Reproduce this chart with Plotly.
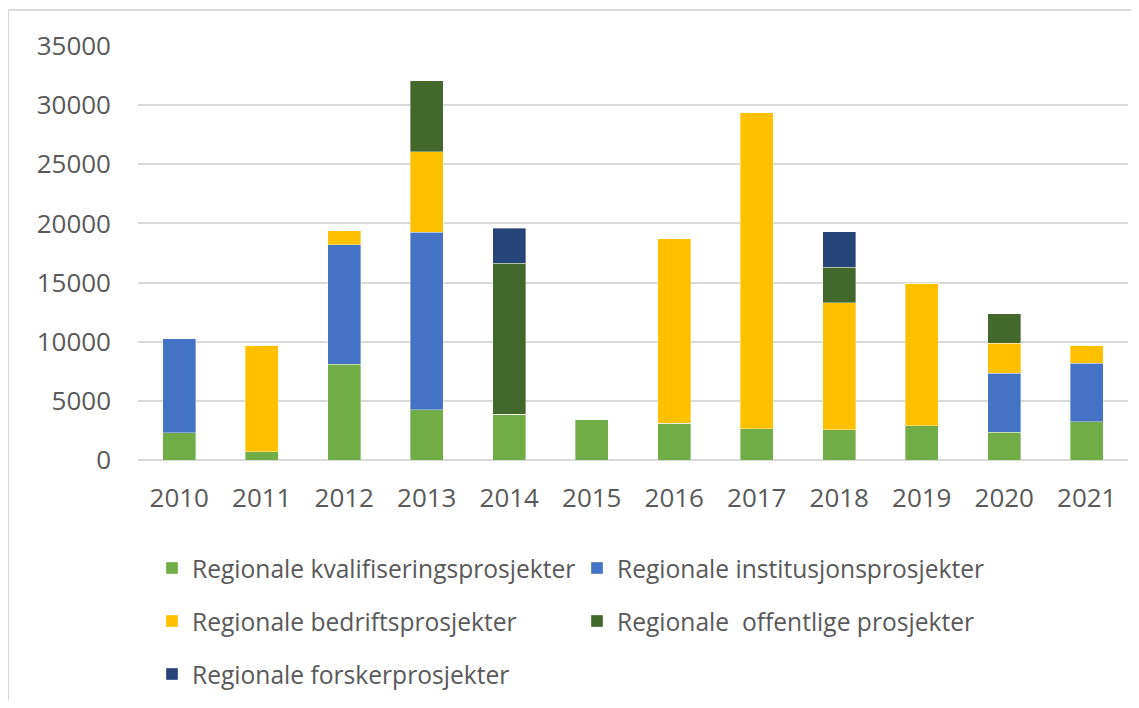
import plotly.graph_objects as go

years = ["2010", "2011", "2012", "2013", "2014", "2015", "2016", "2017", "2018", "2019", "2020", "2021"]
kvalifisering = [2300, 700, 8100, 4250, 3850, 3450, 3100, 2650, 2550, 2900, 2350, 3250]
institusjon = [8000, 0, 10100, 15000, 0, 0, 0, 0, 0, 0, 5000, 4950]
bedrift = [0, 9000, 1200, 6800, 0, 0, 15600, 26700, 10750, 12050, 2500, 1500]
offentlige = [0, 0, 0, 6000, 12800, 0, 0, 0, 3000, 0, 2500, 0]
forsker = [0, 0, 0, 0, 2950, 0, 0, 0, 3000, 0, 0, 0]

series = [
    ("Regionale kvalifiseringsprosjekter", kvalifisering, "#70AD47", "legend"),
    ("Regionale institusjonsprosjekter", institusjon, "#4472C4", "legend2"),
    ("Regionale bedriftsprosjekter", bedrift, "#FFC000", "legend3"),
    ("Regionale  offentlige prosjekter", offentlige, "#43682B", "legend4"),
    ("Regionale forskerprosjekter", forsker, "#264478", "legend5"),
]

FONT = "Open Sans"
TXT = "#595959"
OFF = 8  # page body margin offset

fig = go.Figure()
for name, vals, col, lg in series:
    fig.add_trace(go.Bar(
        x=years, y=vals, name=name,
        marker=dict(color=col, line=dict(width=0.6, color="rgba(255,255,255,0.6)")),
        legend=lg,
    ))

W, H = 1139 - OFF, 708 - 2 * OFF
# positions measured in the screenshot, converted to figure coords
L, T = 138 - OFF, 46 - OFF
R = W - (1128 - OFF)
B = H - (460 - OFF)
pw, ph = W - L - R, H - T - B


def px_x(p):
    return (p - OFF - L) / pw


def px_y(p):
    return (H - B - (p - OFF)) / ph


legend_pos = {
    "legend": (152, 568),
    "legend2": (577, 568),
    "legend3": (152, 621),
    "legend4": (577, 621),
    "legend5": (152, 674),
}
layout_legends = {}
for k, (lx, ly) in legend_pos.items():
    layout_legends[k] = dict(
        x=px_x(lx), y=px_y(ly), xanchor="left", yanchor="middle",
        orientation="h", font=dict(family=FONT, size=24.6, color=TXT),
        bgcolor="rgba(0,0,0,0)", borderwidth=0,
    )

fig.update_layout(
    width=W, height=H,
    margin=dict(l=L, r=R, t=T, b=B, autoexpand=False),
    barmode="stack", bargap=0.6,
    plot_bgcolor="white", paper_bgcolor="white",
    font=dict(family=FONT, size=25, color=TXT),
    showlegend=True,
    **layout_legends,
)
fig.update_xaxes(
    showgrid=False, showline=False, ticks="", ticklabelstandoff=20,
    tickfont=dict(family=FONT, size=26, color=TXT),
)
fig.update_yaxes(
    range=[0, 35000], dtick=5000, showgrid=True, gridcolor="#D9D9D9", gridwidth=1.5,
    zeroline=True, zerolinecolor="#D9D9D9", zerolinewidth=1.5,
    showline=False, ticks="", ticklabelstandoff=26,
    tickfont=dict(family=FONT, size=26, color=TXT),
    tickformat="d",
)
# outer frame of the chart area (top and left edges visible)
fig.add_shape(type="line", xref="paper", yref="paper",
              x0=px_x(8), x1=px_x(1200), y0=px_y(10), y1=px_y(10),
              line=dict(color="#D9D9D9", width=2), layer="below")
fig.add_shape(type="line", xref="paper", yref="paper",
              x0=px_x(8), x1=px_x(8), y0=px_y(10), y1=px_y(760),
              line=dict(color="#D9D9D9", width=2), layer="below")

fig.write_html("out.html")
